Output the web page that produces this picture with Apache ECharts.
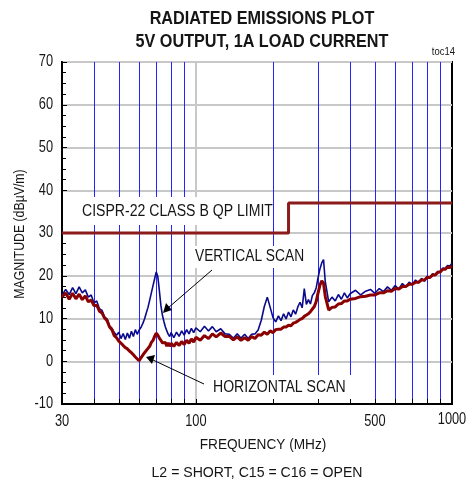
<!DOCTYPE html>
<html><head><meta charset="utf-8">
<script src="https://cdn.jsdelivr.net/npm/echarts@6/dist/echarts.min.js"></script>
<style>html,body{margin:0;padding:0;background:#fff}#c{width:472px;height:482px}</style>
</head><body><div id="c"></div><script>
const freqs = [
  30,31,32,33,34,35,36,37,38,39,
  40,41,42,43,44,45,46,47,48,49,
  50,51,52,53,54,55,56,57,58,59,
  60,61,62,63,64,65,66,67,68,69,
  70,71,72,73,74,75,76,77,78,79,
  80,82,84,86,88,90,92,94,96,98,
  100,104,108,112,116,120,125,130,135,140,
  145,150,155,160,165,170,175,180,185,190,
  195,200,205,210,215,220,225,230,235,240,
  245,250,255,260,265,270,275,280,285,290,
  295,300,305,310,315,320,330,340,350,360,
  370,380,390,400,420,440,460,480,500,520,
  540,560,580,600,620,640,660,680,700,720,
  740,760,780,800,820,840,860,880,900,920,
  940,960,980,1000
];
const verticalScan = [
  15.4,16.8,15.6,17.2,15.8,17.4,16.0,16.7,15.0,15.5,
  13.6,14.1,12.3,11.9,10.3,9.9,8.3,7.7,6.7,6.1,
  6.8,5.3,6.5,5.1,6.6,5.4,7.0,5.8,7.4,6.3,
  7.3,7.9,8.8,9.9,11.3,12.6,14.3,16.0,17.7,19.3,
  20.9,19.8,16.5,13.0,10.8,9.3,8.0,7.1,6.3,5.8,
  6.7,5.5,6.8,5.8,7.1,6.1,7.4,6.4,7.7,6.7,
  7.8,6.9,8.2,7.1,8.1,6.9,7.6,6.4,6.3,5.4,
  6.4,5.4,6.3,5.3,6.3,6.4,7.3,9.6,12.8,15.0,
  12.6,10.2,9.2,10.6,9.5,11.1,9.9,11.5,10.4,12.0,
  11.0,12.7,13.8,12.5,17.0,13.3,14.4,13.4,15.4,16.0,
  17.2,19.6,21.6,23.0,23.8,18.6,13.9,15.0,14.1,15.6,
  14.5,16.0,14.8,15.8,16.6,15.5,16.4,16.8,15.9,17.0,
  16.3,17.4,16.6,17.7,16.9,18.2,17.4,18.5,17.9,19.0,
  18.3,19.4,18.7,19.9,19.5,20.5,20.1,21.0,20.9,21.8,
  21.7,22.4,22.3,22.9
];
const horizontalScan = [
  15.0,16.0,14.5,15.9,14.6,15.7,14.4,15.3,13.9,14.3,
  13.0,13.1,11.7,11.3,10.1,9.5,8.0,7.4,6.0,5.5,
  4.7,4.2,3.7,3.2,2.9,2.4,2.0,1.5,1.0,0.6,
  0.1,0.8,0.9,2.0,2.1,3.0,3.5,4.4,4.9,5.8,
  6.6,6.1,5.4,4.9,4.3,4.0,4.4,3.5,4.3,3.5,
  4.2,3.5,4.4,3.7,4.6,3.9,4.9,4.2,5.2,4.5,
  5.6,4.9,6.0,5.3,6.4,5.7,6.6,5.8,5.8,5.0,
  5.7,4.9,5.5,4.9,5.8,5.3,6.2,6.1,6.8,6.3,
  7.1,6.7,7.4,7.5,7.5,8.0,8.0,8.4,8.3,8.9,
  9.1,9.4,9.8,10.0,10.5,10.8,11.1,11.6,12.0,12.8,
  14.0,16.0,17.8,18.8,18.3,15.2,12.0,12.6,12.7,13.4,
  13.5,14.1,14.1,14.5,14.7,15.1,15.2,15.5,15.5,16.0,
  16.0,16.5,16.4,17.0,16.9,17.5,17.5,18.0,18.0,18.5,
  18.5,19.0,19.0,19.6,19.6,20.2,20.2,20.8,20.9,21.5,
  21.5,22.0,21.9,22.3
];
const limitFreqs = [30, 230, 230, 1000];
const limitValues = [30, 30, 37, 37];
const blueGridFreqs = [40,50,60,70,80,90,200,300,400,500,600,700,800,900];
const grayGridFreqs = [100];
const xTickLabels = [30,100,500,1000];
const xTickMarks = [40,50,60,70,80,90,100,200,300,400,500,600,700,800,900,1000];
const yTickLabels = [-10,0,10,20,30,40,50,60,70];

const FONT = "'Liberation Sans',Arial,sans-serif";
const INK = '#151515';
const chart = echarts.init(document.getElementById('c'));
const pairs = (xs, ys) => xs.map((x, i) => [x, ys[i]]);

chart.setOption({
  animation: false,
  backgroundColor: '#fff',
  grid: { left: 62, right: 20, top: 62, bottom: 78, show: true, borderColor: '#000', borderWidth: 2,
          backgroundColor: 'transparent', outerBoundsMode: 'none', containLabel: false },
  xAxis: {
    type: 'log', logBase: 10, min: 30, max: 1000,
    axisLine: { show: true, onZero: false, lineStyle: { color: '#000', width: 2 } },
    axisTick: { show: false },
    axisLabel: { show: false },
    splitLine: { show: false }, minorTick: { show: false }, minorSplitLine: { show: false }
  },
  yAxis: {
    type: 'value', min: -10, max: 70, interval: 10,
    axisLine: { show: true, onZero: false, lineStyle: { color: '#000', width: 2 } },
    axisTick: { show: true, inside: true, length: 5, lineStyle: { color: '#000' } },
    minorTick: { show: true, splitNumber: 4, length: 4, lineStyle: { color: '#000' } },
    axisLabel: { show: false },
    splitLine: { show: true, lineStyle: { color: '#c8c8c8', width: 2 } }
  },
  series: [
    { name: 'VERTICAL SCAN', type: 'line', data: pairs(freqs, verticalScan), showSymbol: false, symbol: 'none',
      lineStyle: { color: '#0a0a8a', width: 1.6 }, z: 3 },
    { name: 'HORIZONTAL SCAN', type: 'line', data: pairs(freqs, horizontalScan), showSymbol: false, symbol: 'none',
      lineStyle: { color: '#8b0000', width: 3 }, z: 4 },
    { name: 'LIMIT', type: 'line', data: pairs(limitFreqs, limitValues), showSymbol: false, symbol: 'none',
      lineStyle: { color: '#8b1a1a', width: 3 }, z: 5 }
  ]
});

function txt(text, x, y, size, opts) {
  opts = opts || {};
  return {
    type: 'text', z: 100, x: x, y: y, scaleX: opts.sx || 1, scaleY: 1, rotation: opts.rot || 0,
    style: { text: text, x: 0, y: 0, textAlign: opts.align || 'center', textVerticalAlign: 'middle',
             font: (opts.bold ? 'bold ' : '') + size + 'px ' + FONT, fill: INK }
  };
}
const px = v => chart.convertToPixel({ xAxisIndex: 0 }, v);
const py = v => chart.convertToPixel({ yAxisIndex: 0 }, v);
const yTop = py(70), yBot = py(-10);

const g = [];
blueGridFreqs.forEach(f => {
  g.push({ type: 'rect', z: 1, silent: true, shape: { x: Math.round(px(f)), y: yTop, width: 1, height: yBot - yTop - 1 }, style: { fill: '#2424ff' } });
});
grayGridFreqs.forEach(f => {
  g.push({ type: 'rect', z: 1, silent: true, shape: { x: Math.round(px(f)) - 1, y: yTop, width: 2, height: yBot - yTop - 1 }, style: { fill: '#c8c8c8' } });
});
xTickMarks.forEach(f => {
  g.push({ type: 'rect', z: 95, silent: true, shape: { x: Math.round(px(f)), y: yBot - 5, width: 1, height: 5 }, style: { fill: '#000' } });
});
g.push(txt('RADIATED EMISSIONS PLOT', 262, 19, 18, { bold: true, sx: 0.9 }));
g.push(txt('5V OUTPUT, 1A LOAD CURRENT', 262, 42, 18, { bold: true, sx: 0.9 }));
g.push(txt('toc14', 455, 52, 10, { align: 'right', sx: 0.95 }));
yTickLabels.forEach(v => g.push(txt(String(v), 53, py(v), 16, { align: 'right', sx: 0.8 })));
xTickLabels.forEach(v => g.push(txt(String(v), px(v), v === 1000 ? 420 : 422, 16, { sx: 0.8 })));
g.push(txt('FREQUENCY (MHz)', 263, 445, 15, { sx: 0.91 }));
g.push(txt('MAGNITUDE (dBµV/m)', 20, 234, 15, { sx: 0.82, rot: Math.PI / 2 }));
g.push(txt('L2 = SHORT, C15 = C16 = OPEN', 257, 473, 15, { sx: 0.94 }));
g.push({ type: 'rect', z: 90, shape: { x: 63, y: 197, width: 210, height: 28 }, style: { fill: '#fff' } });
g.push(txt('CISPR-22 CLASS B QP LIMIT', 82, 212, 16, { align: 'left', sx: 0.88 }));
g.push({ type: 'rect', z: 90, shape: { x: 192, y: 246, width: 116, height: 22 }, style: { fill: '#fff' } });
g.push(txt('VERTICAL SCAN', 195, 257, 16, { align: 'left', sx: 0.86 }));
g.push({ type: 'rect', z: 90, shape: { x: 207, y: 375, width: 146, height: 27 }, style: { fill: '#fff' } });
g.push(txt('HORIZONTAL SCAN', 213, 388, 16, { align: 'left', sx: 0.88 }));
g.push({ type: 'line', z: 100, shape: { x1: 212, y1: 270, x2: 168, y2: 308 }, style: { stroke: '#000', lineWidth: 1 } });
g.push({ type: 'polygon', z: 100, shape: { points: [[163, 313], [166, 303], [172, 310]] }, style: { fill: '#000' } });
g.push({ type: 'line', z: 100, shape: { x1: 204, y1: 384, x2: 153, y2: 360 }, style: { stroke: '#000', lineWidth: 1 } });
g.push({ type: 'polygon', z: 100, shape: { points: [[146, 357], [155, 355], [152, 364]] }, style: { fill: '#000' } });
chart.setOption({ graphic: g });
</script></body></html>
